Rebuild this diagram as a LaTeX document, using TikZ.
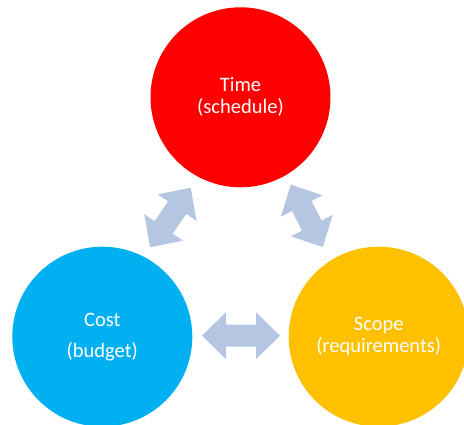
\documentclass[tikz,border=0pt]{standalone}
\usepackage{fontspec}
\setmainfont{Carlito}
\usetikzlibrary{calc}
\definecolor{timered}{HTML}{FF0000}
\definecolor{costblue}{HTML}{00B0F0}
\definecolor{scopeorange}{HTML}{FFC000}
\definecolor{arrowfill}{HTML}{B4C6E2}
\newcommand{\dblarrow}[3]{%
  \begin{scope}[shift={#1}, rotate=#2]
    \fill[blockarrow] (-#3,0) -- (-#3+24,-23.5) -- (-#3+24,-11) -- (#3-24,-11) -- (#3-24,-23.5) -- (#3,0)
      -- (#3-24,23.5) -- (#3-24,11) -- (-#3+24,11) -- (-#3+24,23.5) -- cycle;
  \end{scope}}
\begin{document}
\begin{tikzpicture}[x=1pt,y=-1pt,
  circ/.style={circle, minimum size=180pt, inner sep=0pt, text=white,
    font=\fontsize{20.5}{22}\selectfont, align=center},
  blockarrow/.style={fill=arrowfill}]
\useasboundingbox (0,0) rectangle (464,425);
\clip (0,0) rectangle (464,425);
\node[circ, fill=timered] (time) at (240.5,97.3) {Time\\(schedule)};
\node[circ, fill=costblue] (cost) at (102.3,336.7) {Cost\\[9pt](budget)};
\node[circ, fill=scopeorange] (scope) at (378.7,336.7) {Scope\\(requirements)};
\dblarrow{($(time)!0.5!(cost)+(-1,0.5)$)}{55.7}{36}
\dblarrow{($(time)!0.5!(scope)+(-2.8,-1.2)$)}{-62.8}{35}
\dblarrow{($(cost)!0.5!(scope)+(0.5,-1)$)}{0}{39}
\end{tikzpicture}
\end{document}
